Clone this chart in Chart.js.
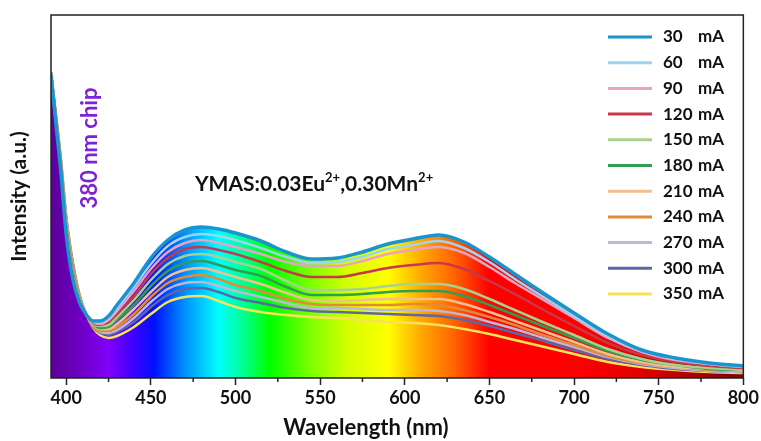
<!DOCTYPE html>
<html>
<head>
<meta charset="utf-8">
<script src="https://cdn.jsdelivr.net/npm/chart.js@4.4.0/dist/chart.umd.min.js"></script>
<style>
  html, body { margin: 0; padding: 0; background: #fff; }
  #wrap { width: 761px; height: 441px; }
</style>
</head>
<body>
<div id="wrap"><canvas id="myChart" width="761" height="441"></canvas></div>
<script>
// Wavelength grid (nm) and emission intensities (a.u.)
const wavelengths = [391,394,397,400,404,408,412,416,420,425,430,440,450,460,470,480,490,500,515,530,545,560,575,590,605,620,635,650,665,680,700,720,740,760,780,800];

const currents = ['30 mA','60 mA','90 mA','120 mA','150 mA','180 mA','210 mA','240 mA','270 mA','300 mA','350 mA'];

const i30  = [303,253,203,143,98,75,63,57,57,62,73,95,120,138,148,151,149,145,137,126,119,120,126,134,139,143,136,121,104,87,65,44,28,20,15,12];
const i60  = [303,254,205,145,100,76,63,56,56,60,70,91,114,132,141,144,142,138,130,121,115,116,121,129,133,137,130,116,99,83,62,42,27,19,14,11];
const i90  = [304,255,206,147,101,77,63,56,54,58,67,87,109,126,135,138,135,131,124,116,112,112,117,124,128,131,125,111,95,80,60,40,26,18,14,11];
const i120 = [304,256,207,149,103,77,63,55,53,56,64,82,104,120,129,131,128,124,116,107,101,101,105,110,113,115,109,97,84,70,52,35,23,16,12,10];
const i150 = [304,257,209,151,105,78,63,54,52,53,61,78,98,114,122,124,121,116,109,97,88,88,89,92,94,94,89,79,68,57,43,29,19,13,10,8];
const i180 = [305,258,211,153,107,79,63,54,50,51,58,73,92,107,115,117,113,108,102,91,83,83,84,86,87,87,82,73,63,53,40,27,18,13,9,8];
const i210 = [305,259,212,155,109,80,63,53,49,49,54,69,86,101,108,110,106,101,94,85,78,77,78,79,79,79,74,66,57,48,36,24,16,11,9,7];
const i240 = [305,260,214,157,111,81,63,52,47,47,51,64,81,95,101,103,99,93,87,79,74,73,73,73,74,73,68,61,53,44,33,22,15,11,8,7];
const i270 = [305,261,215,159,112,81,63,52,46,45,48,60,76,89,95,96,92,87,81,75,70,70,69,68,68,67,63,56,49,41,31,21,14,10,7,6];
const i300 = [306,262,216,161,114,82,63,51,45,43,46,56,71,83,89,90,86,80,75,70,67,66,65,64,63,62,58,52,45,38,28,19,13,9,7,6];
const i350 = [306,263,218,163,116,83,63,50,43,40,42,51,64,76,81,82,77,71,66,63,61,60,58,56,55,53,49,44,38,32,24,16,11,8,6,5];

const seriesValues = [i30, i60, i90, i120, i150, i180, i210, i240, i270, i300, i350];

const xTicks = [400,450,500,550,600,650,700,750,800];
const xMinorTicks = [425,475,525,575,625,675,725,775];

// colours
const lineColors = ['#1a94cf','#9ed4ef','#eaa2c2','#c9374a','#a9d18e','#2f9e50','#f2c08e','#e2893a','#bdb8da','#5b67a6','#f6e35a'];
const spectrumNm = [391,410,425,440,452,470,490,505,520,545,565,590,610,630,650,700,740,770,800];
const spectrumColors = ['#5c0098','#7000c8','#8000f8','#3c00ff','#0010ff','#0090ff','#00ffff','#00ff90','#00ff00','#80ff00','#d0ff00','#ffff00','#ffa800','#ff6000','#ff0000','#ff0000','#e00000','#b00000','#800000'];

const FONT = 'Lato';

// horizontal rainbow gradient under the 30 mA curve
function spectrumFill(context) {
    const chart = context.chart;
    if (!chart.chartArea) return null;
    const x = chart.scales.x;
    const x0 = x.getPixelForValue(spectrumNm[0]);
    const x1 = x.getPixelForValue(spectrumNm[spectrumNm.length - 1]);
    const g = chart.ctx.createLinearGradient(x0, 0, x1, 0);
    spectrumNm.forEach((nm, i) => {
        g.addColorStop((x.getPixelForValue(nm) - x0) / (x1 - x0), spectrumColors[i]);
    });
    return g;
}

// frame, minor ticks, legend and the text labels
const decorPlugin = {
    id: 'decor',
    afterDatasetsDraw(chart) {
        const ctx = chart.ctx;
        const a = chart.chartArea;
        const x = chart.scales.x;
        ctx.save();

        ctx.strokeStyle = '#222';
        ctx.lineWidth = 1.5;
        ctx.strokeRect(a.left, a.top, a.right - a.left, a.bottom - a.top);

        xMinorTicks.forEach(v => {
            const px = x.getPixelForValue(v);
            ctx.beginPath();
            ctx.moveTo(px, a.bottom);
            ctx.lineTo(px, a.bottom + 4);
            ctx.stroke();
        });

        // x axis title (sits left of centre in the original)
        ctx.fillStyle = '#111';
        ctx.textAlign = 'center';
        ctx.textBaseline = 'middle';
        ctx.font = 'bold 22px ' + FONT;
        ctx.fillText('Wavelength (nm)', 366, 428);

        // legend
        ctx.font = 'bold 17px ' + FONT;
        currents.forEach((label, i) => {
            const y = 37 + i * 25.7;
            ctx.strokeStyle = lineColors[i];
            ctx.lineWidth = 3;
            ctx.beginPath();
            ctx.moveTo(608, y);
            ctx.lineTo(652, y);
            ctx.stroke();
            const parts = label.split(' ');
            ctx.textAlign = 'left';
            ctx.fillText(parts[0], 663, y);
            ctx.textAlign = 'right';
            ctx.fillText(parts[1], 724, y);
        });

        // 380 nm chip
        ctx.save();
        ctx.translate(90, 148);
        ctx.rotate(-Math.PI / 2);
        ctx.textAlign = 'center';
        ctx.textBaseline = 'middle';
        ctx.fillStyle = '#7d22d8';
        ctx.font = 'bold 22px ' + FONT;
        ctx.fillText('380 nm chip', 0, 0);
        ctx.restore();

        // sample formula with superscripts
        const pieces = [['YMAS:0.03Eu', false], ['2+', true], [',0.30Mn', false], ['2+', true]];
        let tx = 195;
        const base = 191;
        ctx.textAlign = 'left';
        ctx.textBaseline = 'alphabetic';
        ctx.fillStyle = '#111';
        pieces.forEach(p => {
            ctx.font = p[1] ? 'bold 13px ' + FONT : 'bold 21px ' + FONT;
            ctx.fillText(p[0], tx, p[1] ? base - 9 : base);
            tx += ctx.measureText(p[0]).width;
        });

        ctx.restore();
    }
};

const datasets = seriesValues.map((vals, i) => ({
    label: currents[i],
    data: wavelengths.map((w, j) => ({ x: w, y: vals[j] })),
    borderColor: lineColors[i],
    borderWidth: i === 0 ? 3.5 : 2.5,
    fill: i === 0 ? 'origin' : false,
    backgroundColor: i === 0 ? spectrumFill : 'rgba(0,0,0,0)',
    pointRadius: 0,
    cubicInterpolationMode: 'monotone'
}));

const ctx = document.getElementById('myChart').getContext('2d');
new Chart(ctx, {
    type: 'line',
    data: { datasets: datasets },
    options: {
        responsive: false,
        animation: false,
        layout: { padding: { top: 15, right: 17, left: 0, bottom: 0 } },
        plugins: {
            legend: { display: false },
            tooltip: { enabled: false },
            filler: { drawTime: 'beforeDatasetsDraw' }
        },
        scales: {
            x: {
                type: 'linear',
                min: 391,
                max: 800,
                afterBuildTicks: s => { s.ticks = xTicks.map(v => ({ value: v })); },
                afterFit: s => { s.height = 63; },
                grid: { drawOnChartArea: false, tickLength: 7, tickColor: '#222', tickWidth: 1.5 },
                border: { display: false },
                ticks: {
                    font: { family: FONT, size: 18, weight: 'bold' },
                    color: '#111',
                    padding: 2,
                    maxRotation: 0,
                    autoSkip: false
                },
                title: { display: false }
            },
            y: {
                min: 0,
                max: 363,
                afterFit: s => { s.width = 51; },
                ticks: { display: false },
                grid: { display: false, drawTicks: false },
                border: { display: false },
                title: {
                    display: true,
                    text: 'Intensity (a.u.)',
                    font: { family: FONT, size: 21, weight: 'bold' },
                    color: '#111',
                    padding: { top: 7, bottom: 0 }
                }
            }
        }
    },
    plugins: [decorPlugin]
});
</script>
</body>
</html>
